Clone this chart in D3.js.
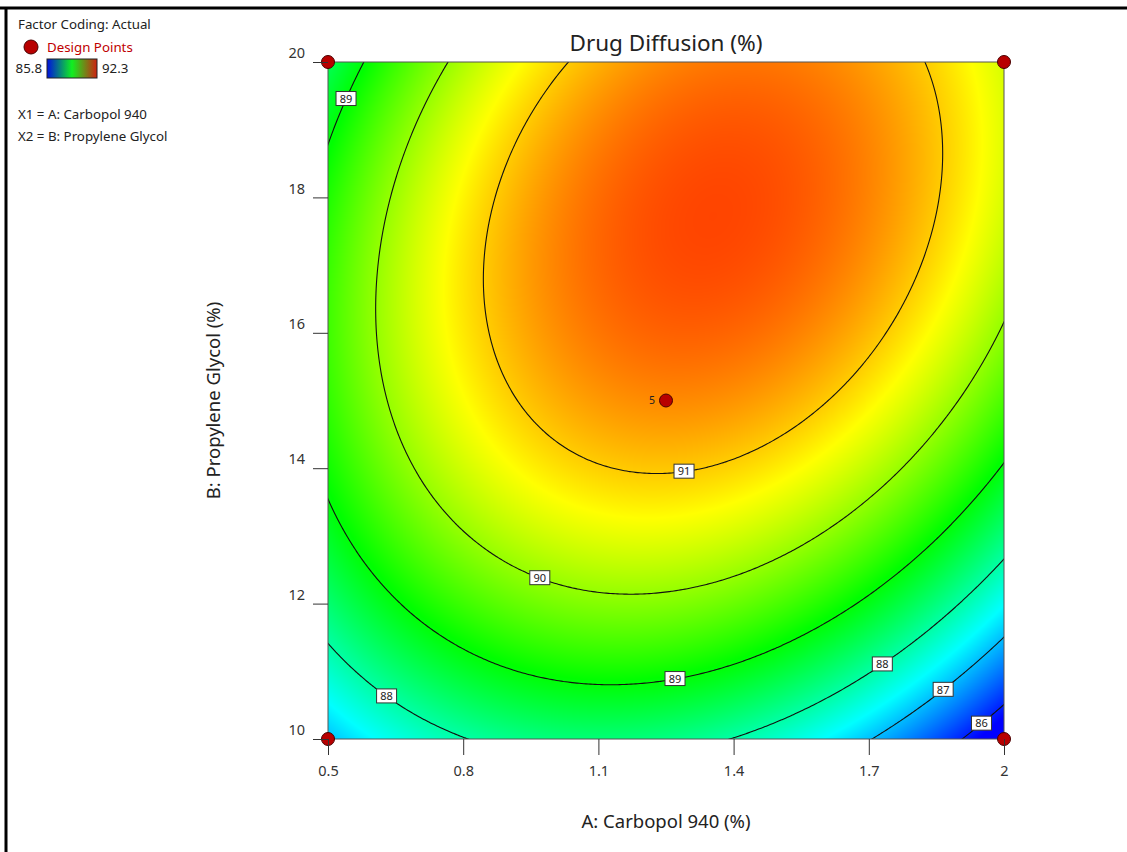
<!DOCTYPE html>
<html>
<head>
<meta charset="utf-8">
<script src="https://cdn.jsdelivr.net/npm/d3@7"></script>
<style>
  html, body { margin: 0; padding: 0; background: #fff; }
  svg { display: block; font-family: "Noto Sans", "Open Sans", sans-serif; }
</style>
</head>
<body>
<div id="chart"></div>
<script>
// quadratic model in coded units
const modelTerms = ["Intercept", "A", "B", "AB", "A²", "B²"];
const modelCoefs = [91.42, 0.08, 1.61, 0.87, -1.99, -1.59];

const rangeA = [0.5, 2];     // Carbopol 940 (%)
const rangeB = [10, 20];     // Propylene Glycol (%)

// design points
const designA = [0.5, 2, 0.5, 2, 1.25];
const designB = [10, 10, 20, 20, 15];
const designReps = [1, 1, 1, 1, 5];

const colorMin = 85.8, colorMax = 92.3;
const contourLevels = [86, 87, 88, 89, 90, 91];

const xTicks = [0.5, 0.8, 1.1, 1.4, 1.7, 2];
const yTicks = [10, 12, 14, 16, 18, 20];

// where the contour labels sit: level, A, and the B window to look in
const labelLevels = [89, 91, 90, 89, 88, 88, 87, 86];
const labelA = [0.54, 1.29, 0.97, 1.27, 0.63, 1.73, 1.865, 1.95];
const labelBWin = [[17, 20], [13, 15], [11, 14], [10, 12.5], [10, 12], [10, 13], [10, 12], [10, 11]];

const W = 1127, H = 852;
const plot = { left: 328, right: 1004, top: 62, bottom: 739 };

function predict(a, b) {
  const xc = (a - 1.25) / 0.75, yc = (b - 15) / 5;
  const t = [1, xc, yc, xc * yc, xc * xc, yc * yc];
  return d3.sum(t, (v, i) => v * modelCoefs[i]);
}

const x = d3.scaleLinear().domain(rangeA).range([plot.left, plot.right]);
const y = d3.scaleLinear().domain(rangeB).range([plot.bottom, plot.top]);

const color = d3.scaleLinear()
  .domain(d3.range(5).map(i => colorMin + i * (colorMax - colorMin) / 4))
  .range(["#0000ff", "#00ffff", "#00ff00", "#ffff00", "#ff0000"])
  .clamp(true);

const svg = d3.select("#chart").append("svg")
  .attr("width", W).attr("height", H);

// frame
svg.append("line").attr("x1", 0).attr("x2", W).attr("y1", 8).attr("y2", 8)
  .attr("stroke", "#000").attr("stroke-width", 3);
svg.append("line").attr("x1", 6).attr("x2", 6).attr("y1", 7).attr("y2", H)
  .attr("stroke", "#000").attr("stroke-width", 3);

// heat map, drawn on a canvas and placed as an image
const pw = plot.right - plot.left, ph = plot.bottom - plot.top;
const canvas = document.createElement("canvas");
canvas.width = pw; canvas.height = ph;
const ctx = canvas.getContext("2d");
const img = ctx.createImageData(pw, ph);
for (let j = 0; j < ph; j++) {
  const b = y.invert(plot.top + j + 0.5);
  for (let i = 0; i < pw; i++) {
    const a = x.invert(plot.left + i + 0.5);
    const c = d3.rgb(color(predict(a, b)));
    const k = (j * pw + i) * 4;
    img.data[k] = c.r; img.data[k + 1] = c.g; img.data[k + 2] = c.b; img.data[k + 3] = 255;
  }
}
ctx.putImageData(img, 0, 0);
svg.append("image")
  .attr("x", plot.left).attr("y", plot.top)
  .attr("width", pw).attr("height", ph)
  .attr("href", canvas.toDataURL());

// contour lines
svg.append("clipPath").attr("id", "plotclip")
  .append("rect").attr("x", plot.left).attr("y", plot.top).attr("width", pw).attr("height", ph);

const n = 300, pad = 6;
const gw = n + 2 * pad, gh = n + 2 * pad;
const stepA = (rangeA[1] - rangeA[0]) / n, stepB = (rangeB[1] - rangeB[0]) / n;
const grid = new Array(gw * gh);
for (let j = 0; j < gh; j++) {
  const b = rangeB[1] - (j - pad + 0.5) * stepB;
  for (let i = 0; i < gw; i++) {
    const a = rangeA[0] + (i - pad + 0.5) * stepA;
    grid[j * gw + i] = predict(a, b);
  }
}
const contours = d3.contours().size([gw, gh]).thresholds(contourLevels)(grid);
const proj = d3.geoTransform({
  point: function(px, py) {
    this.stream.point(x(rangeA[0] + (px - pad) * stepA), y(rangeB[1] - (py - pad) * stepB));
  }
});
svg.append("g").attr("clip-path", "url(#plotclip)")
  .selectAll("path").data(contours).join("path")
  .attr("d", d3.geoPath(proj))
  .attr("fill", "none")
  .attr("stroke", "#111")
  .attr("stroke-width", 1.1);

// plot border
svg.append("rect")
  .attr("x", plot.left).attr("y", plot.top).attr("width", pw).attr("height", ph)
  .attr("fill", "none").attr("stroke", "#555").attr("stroke-width", 1);

// contour labels
function solveB(level, a, win) {
  let lo = win[0], hi = win[1];
  let flo = predict(a, lo) - level;
  for (let it = 0; it < 60; it++) {
    const mid = (lo + hi) / 2, fm = predict(a, mid) - level;
    if ((fm > 0) === (flo > 0)) { lo = mid; flo = fm; } else { hi = mid; }
  }
  return (lo + hi) / 2;
}
const labels = svg.append("g").selectAll("g")
  .data(labelLevels.map((lv, i) => ({ level: lv, a: labelA[i], b: solveB(lv, labelA[i], labelBWin[i]) })))
  .join("g")
  .attr("transform", d => `translate(${x(d.a)},${y(d.b)})`);
labels.append("rect")
  .attr("x", -10).attr("y", -7.5).attr("width", 20).attr("height", 14)
  .attr("fill", "#fff").attr("stroke", "#333").attr("stroke-width", 1);
labels.append("text")
  .attr("text-anchor", "middle").attr("dy", "0.34em")
  .attr("font-size", 11).attr("fill", "#222")
  .text(d => d.level);

// design points
const pts = designA.map((a, i) => ({ a, b: designB[i], reps: designReps[i] }));
svg.append("g").selectAll("circle").data(pts).join("circle")
  .attr("cx", d => x(d.a)).attr("cy", d => y(d.b)).attr("r", 6.5)
  .attr("fill", "#b80000").attr("stroke", "#4a0000").attr("stroke-width", 1);
svg.append("g").selectAll("text").data(pts.filter(d => d.reps > 1)).join("text")
  .attr("x", d => x(d.a) - 11).attr("y", d => y(d.b)).attr("dy", "0.35em")
  .attr("text-anchor", "end").attr("font-size", 10.5).attr("fill", "#222")
  .text(d => d.reps);

// axes
const xAxis = svg.append("g").attr("transform", `translate(0,${plot.bottom})`)
  .call(d3.axisBottom(x).tickValues(xTicks).tickSize(16).tickPadding(11).tickSizeOuter(0)
    .tickFormat(d3.format("~g")));
xAxis.select(".domain").remove();
xAxis.selectAll("line").attr("stroke", "#333");
xAxis.selectAll("text").attr("font-size", 14.5).attr("fill", "#333")
  .attr("font-family", "Noto Sans, sans-serif");

const yAxis = svg.append("g").attr("transform", `translate(${plot.left},0)`)
  .call(d3.axisLeft(y).tickValues(yTicks).tickSize(15).tickPadding(8).tickSizeOuter(0));
yAxis.select(".domain").remove();
yAxis.selectAll("line").attr("stroke", "#333");
yAxis.selectAll("text").attr("font-size", 14.5).attr("fill", "#333").attr("y", -9)
  .attr("font-family", "Noto Sans, sans-serif");

// titles
svg.append("text").attr("x", (plot.left + plot.right) / 2).attr("y", 51)
  .attr("text-anchor", "middle").attr("font-size", 22.5).attr("fill", "#222")
  .text("Drug Diffusion (%)");
svg.append("text").attr("x", (plot.left + plot.right) / 2).attr("y", 828)
  .attr("text-anchor", "middle").attr("font-size", 18.5).attr("fill", "#222")
  .text("A: Carbopol 940 (%)");
svg.append("text").attr("transform", `translate(220,${(plot.top + plot.bottom) / 2}) rotate(-90)`)
  .attr("text-anchor", "middle").attr("font-size", 18.5).attr("fill", "#222")
  .text("B: Propylene Glycol (%)");

// legend
const leg = svg.append("g").attr("font-size", 13.3).attr("fill", "#222");
leg.append("text").attr("x", 18).attr("y", 29).text("Factor Coding: Actual");
leg.append("circle").attr("cx", 31).attr("cy", 47).attr("r", 7)
  .attr("fill", "#b80000").attr("stroke", "#4a0000");
leg.append("text").attr("x", 47).attr("y", 52).attr("fill", "#c00000").text("Design Points");
const grad = svg.append("defs").append("linearGradient").attr("id", "legGrad");
grad.selectAll("stop").data([["0%", "#0010e0"], ["50%", "#10f020"], ["100%", "#d02010"]]).join("stop")
  .attr("offset", d => d[0]).attr("stop-color", d => d[1]);
leg.append("rect").attr("x", 47).attr("y", 59).attr("width", 50).attr("height", 19)
  .attr("fill", "url(#legGrad)").attr("stroke", "#222").attr("stroke-width", 1);
leg.append("text").attr("x", 42).attr("y", 73).attr("text-anchor", "end").text(colorMin);
leg.append("text").attr("x", 102).attr("y", 73).text(colorMax);
leg.append("text").attr("x", 18).attr("y", 119).text("X1 = A: Carbopol 940");
leg.append("text").attr("x", 18).attr("y", 141).text("X2 = B: Propylene Glycol");
</script>
</body>
</html>
